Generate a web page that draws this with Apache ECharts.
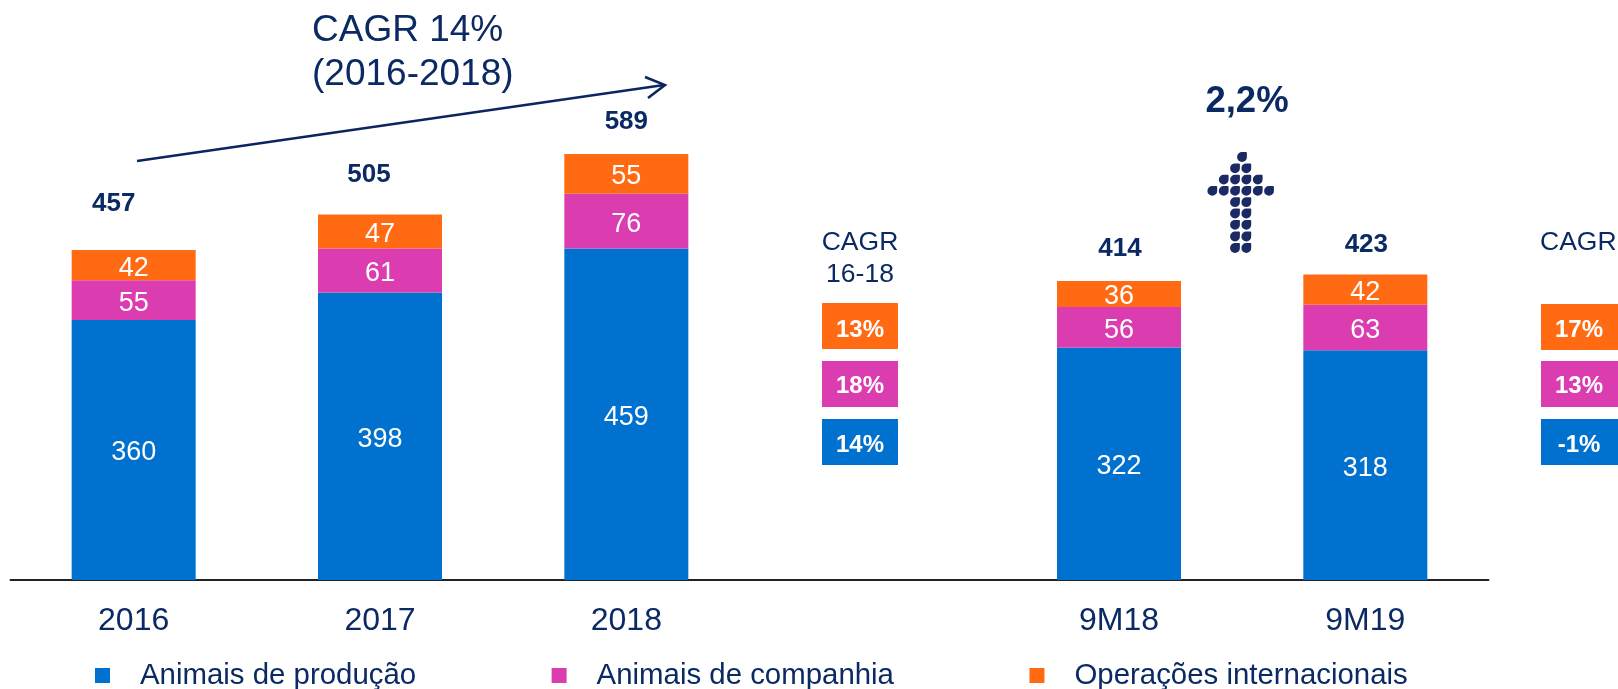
<!DOCTYPE html>
<html>
<head>
<meta charset="utf-8">
<style>html,body{margin:0;padding:0;background:#fff;overflow:hidden}#c{width:1618px;height:689px}</style>
<script src="https://cdn.jsdelivr.net/npm/echarts@6/dist/echarts.min.js"></script>
</head>
<body>
<div id="c"></div>
<script>
var categories = ['2016', '2017', '2018', '', '9M18', '9M19'];
var producao = [360, 398, 459, null, 322, 318];
var companhia = [55, 61, 76, null, 56, 63];
var internacionais = [42, 47, 55, null, 36, 42];
var totals = [457, 505, 589, null, 414, 423];
var totalOffsets = [[-20, -46], [-11, -40], [0, -33], [0, 0], [1, -32], [1, -30]];
var cagrBoxes1618 = ['13%', '18%', '14%'];
var cagrBoxes9M = ['17%', '13%', '-1%'];

var NAVY = '#0B2A63', BLUE = '#0071CE', PINK = '#DB3DB0', ORANGE = '#FF6A13';
var FONT = '"Liberation Sans", Arial, sans-serif';
var boxColors = [ORANGE, PINK, BLUE];
var boxTops = [303, 361, 419];
var boxTextY = [330, 386, 445];

function segLabel() {
  return { show: true, position: 'inside', offset: [0, 3], color: '#fff', fontSize: 27, fontFamily: FONT };
}
function txt(x, y, s, size, bold, align, color) {
  return { type: 'text', x: x, y: y, silent: true, style: {
    text: s, fill: color || NAVY, font: (bold ? 'bold ' : '') + size + 'px ' + FONT,
    textAlign: align || 'center', textVerticalAlign: 'middle' } };
}

var graphics = [];
graphics.push(txt(312, 31, 'CAGR 14%', 37, false, 'left'));
graphics.push(txt(312, 75, '(2016-2018)', 37, false, 'left'));
graphics.push({ type: 'line', silent: true, shape: { x1: 137, y1: 161, x2: 664, y2: 85 },
  style: { stroke: '#0A2560', lineWidth: 2.5 } });
graphics.push({ type: 'polyline', silent: true, shape: { points: [[645, 77], [665, 85], [648, 98]] },
  style: { stroke: '#0A2560', lineWidth: 2.5, fill: null } });
graphics.push(txt(1247, 102, '2,2%', 36.5, true));

var arrowRows = [
  [1242], [1235, 1246.3], [1223.7, 1235, 1246.3, 1257.7], [1212.3, 1223.7, 1235, 1246.3, 1257.7, 1269],
  [1235, 1246.3], [1235, 1246.3], [1235, 1246.3], [1235, 1246.3], [1235, 1246.3]
];
var arrowY = [157, 168.3, 179.6, 190.9, 202.2, 213.5, 224.8, 236.5, 248];
arrowRows.forEach(function (row, i) {
  row.forEach(function (x) {
    graphics.push({ type: 'rect', silent: true,
      shape: { x: x - 4.9, y: arrowY[i] - 4.9, width: 9.8, height: 9.8, r: [4.9, 1, 4.9, 4.9] },
      style: { fill: '#1B2A63' } });
  });
});

graphics.push(txt(860, 243, 'CAGR', 26.5, false));
graphics.push(txt(860, 275, '16-18', 26.5, false));
graphics.push(txt(1540, 243, 'CAGR', 26.5, false, 'left'));
cagrBoxes1618.forEach(function (s, i) {
  graphics.push({ type: 'rect', silent: true, shape: { x: 822, y: boxTops[i], width: 76, height: 46 }, style: { fill: boxColors[i] } });
  graphics.push(txt(860, boxTextY[i], s, 24, true, 'center', '#fff'));
});
cagrBoxes9M.forEach(function (s, i) {
  graphics.push({ type: 'rect', silent: true, shape: { x: 1541, y: boxTops[i] + (i === 0 ? 1 : 0), width: 77, height: 46 }, style: { fill: boxColors[i] } });
  graphics.push(txt(1579, boxTextY[i], s, 24, true, 'center', '#fff'));
});

var chart = echarts.init(document.getElementById('c'), null, { renderer: 'canvas' });
chart.setOption({
  animation: false,
  backgroundColor: '#fff',
  textStyle: { fontFamily: FONT },
  grid: { left: 10.5, width: 1478, top: 3, height: 577 },
  legend: {
    left: 95, top: 661, padding: 0, itemWidth: 15, itemHeight: 15, itemGap: 135.5, icon: 'rect',
    selectedMode: false,
    textStyle: { color: NAVY, fontSize: 29.4, fontFamily: FONT, padding: [0, 0, 0, 25] },
    data: ['Animais de produção', 'Animais de companhia', 'Operações internacionais']
  },
  xAxis: {
    type: 'category', data: categories,
    axisTick: { show: false },
    axisLine: { lineStyle: { color: '#222', width: 2 } },
    axisLabel: { color: NAVY, fontSize: 32, fontFamily: FONT, margin: 25, interval: 0 }
  },
  yAxis: { type: 'value', min: 0, max: 799, show: false, splitLine: { show: false } },
  series: [
    { name: 'Animais de produção', type: 'bar', stack: 't', barWidth: 124, data: producao,
      itemStyle: { color: BLUE }, label: segLabel() },
    { name: 'Animais de companhia', type: 'bar', stack: 't', data: companhia,
      itemStyle: { color: PINK }, label: segLabel() },
    { name: 'Operações internacionais', type: 'bar', stack: 't', data: internacionais,
      itemStyle: { color: ORANGE }, label: segLabel() },
    { name: 'Total', type: 'scatter', symbolSize: 0, silent: true,
      itemStyle: { opacity: 1 },
      data: totals.map(function (v, i) {
        return { value: v, label: { offset: totalOffsets[i] } };
      }),
      label: { show: true, position: 'inside', color: NAVY, opacity: 1, fontSize: 26, fontWeight: 'bold', fontFamily: FONT,
        formatter: function (p) { return p.value == null ? '' : String(p.value); } }
    }
  ],
  graphic: { elements: graphics }
});
</script>
</body>
</html>
